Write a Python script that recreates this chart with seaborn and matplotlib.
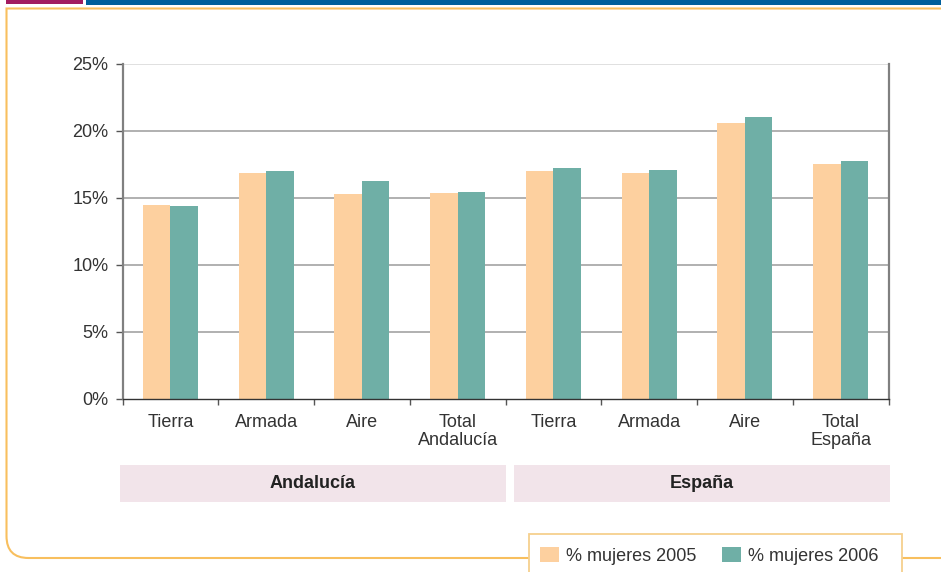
import numpy as np
import pandas as pd
import matplotlib
matplotlib.use("Agg")
import matplotlib.pyplot as plt
import seaborn as sns
from matplotlib.patches import Rectangle, PathPatch
from matplotlib.path import Path
from matplotlib.ticker import FixedLocator

# ---------------- data ----------------
categories = ["Tierra", "Armada", "Aire", "Total\nAndalucía",
              "Tierra", "Armada", "Aire", "Total\nEspaña"]
group_of = ["Andalucía"] * 4 + ["España"] * 4
groups = ["Andalucía", "España"]
years = ["% mujeres 2005", "% mujeres 2006"]
mujeres_2005 = [14.46, 16.85, 15.28, 15.36, 17.00, 16.85, 20.59, 17.53]
mujeres_2006 = [14.39, 17.00, 16.26, 15.43, 17.23, 17.08, 21.04, 17.75]
y_ticks = [0, 5, 10, 15, 20, 25]
y_tick_labels = ["0%", "5%", "10%", "15%", "20%", "25%"]

# ---------------- style ----------------
C05 = "#FDD09F"
C06 = "#6FAFA6"
BOX = "#F2E4EA"
ORANGE = "#F8BF5E"
TXT = "#333333"

W, H = 941, 572
sns.set_theme(style="white")
plt.rcParams["font.family"] = ["Liberation Sans", "DejaVu Sans"]

keys = [f"{g}|{c}" for g, c in zip(group_of, categories)]
df = pd.DataFrame({
    "key": keys * 2,
    "value": mujeres_2005 + mujeres_2006,
    "year": [years[0]] * len(keys) + [years[1]] * len(keys),
})

fig = plt.figure(figsize=(W / 100, H / 100), dpi=100)
fig.patch.set_facecolor("white")

def fx(x):
    return x / W

def fy(y):
    return 1 - y / H

ax = fig.add_axes([fx(122.5), fy(398.5), fx(888.5) - fx(122.5), fy(64) - fy(398.5)])

# gridlines
for t in y_ticks[1:]:
    ax.axhline(t, color="#DDDDDD" if t == 25 else "#AAAAAA", lw=1.3, zorder=0)

sns.barplot(data=df, x="key", y="value", hue="year", order=keys,
            hue_order=years, palette=[C05, C06], width=0.575, gap=0,
            saturation=1, linewidth=0, ax=ax, legend=False, zorder=2)

ax.set_xlim(-0.5, len(keys) - 0.5)
ax.set_ylim(0, 25)
ax.set_xlabel("")
ax.set_ylabel("")

ax.set_yticks(y_ticks)
ax.set_yticklabels(y_tick_labels, fontsize=13, color=TXT)
ax.tick_params(axis="y", direction="out", length=5, width=1, color="#555555",
               pad=5, left=True)

ax.set_xticks(range(len(keys)))
ax.set_xticklabels(categories, fontsize=13, color=TXT, linespacing=1.12)
ax.tick_params(axis="x", which="major", length=0, pad=11, bottom=True)
ax.xaxis.set_minor_locator(FixedLocator(np.arange(-0.5, len(keys), 1.0)))
ax.tick_params(axis="x", which="minor", direction="out", length=4, width=1,
               color="#555555", bottom=True)

ax.spines["top"].set_visible(False)
ax.spines["left"].set_color("#808080")
ax.spines["left"].set_linewidth(1.6)
ax.spines["right"].set_color("#808080")
ax.spines["right"].set_linewidth(1.6)
ax.spines["bottom"].set_color("#333333")
ax.spines["bottom"].set_linewidth(1.0)

# group label boxes
for (x0, x1), g in zip([(120, 506), (514, 890)], groups):
    fig.add_artist(Rectangle((fx(x0), fy(502)), fx(x1) - fx(x0), fy(465) - fy(502),
                             transform=fig.transFigure, facecolor=BOX,
                             edgecolor="none"))
    fig.text(fx((x0 + x1) / 2), fy(483.5), g, ha="center", va="center",
             fontsize=13, fontweight="bold", color="#222222")

# decorative header bars
fig.add_artist(Rectangle((fx(6), fy(4)), fx(83) - fx(6), fy(0) - fy(4),
                         transform=fig.transFigure, facecolor="#A21C60",
                         edgecolor="none"))
fig.add_artist(Rectangle((fx(86), fy(4.5)), fx(941) - fx(86), fy(0) - fy(4.5),
                         transform=fig.transFigure, facecolor="#00609C",
                         edgecolor="none"))

# orange frame
r = 22
verts = [(fx(941), fy(8.5)), (fx(6.5), fy(8.5)), (fx(6.5), fy(558 - r)),
         (fx(6.5), fy(558)), (fx(6.5 + r), fy(558)), (fx(941), fy(558))]
codes = [Path.MOVETO, Path.LINETO, Path.LINETO, Path.CURVE3, Path.CURVE3, Path.LINETO]
fig.add_artist(PathPatch(Path(verts, codes), transform=fig.transFigure,
                         facecolor="none", edgecolor=ORANGE, lw=1.5))

# legend box
fig.add_artist(Rectangle((fx(529), fy(590)), fx(902) - fx(529), fy(534) - fy(590),
                         transform=fig.transFigure, facecolor="white",
                         edgecolor="#F6D08E", lw=1.3, clip_on=False))

handles = [Rectangle((0, 0), 1, 1, facecolor=C05, edgecolor="none"),
           Rectangle((0, 0), 1, 1, facecolor=C06, edgecolor="none")]
leg = fig.legend(handles, years, loc="center left",
                 bbox_to_anchor=(fx(540), fy(556)), bbox_transform=fig.transFigure,
                 ncol=2, frameon=False, fontsize=13, handlelength=1.05,
                 handleheight=0.9, handletextpad=0.4, columnspacing=1.4,
                 borderpad=0, borderaxespad=0)
for t in leg.get_texts():
    t.set_color(TXT)

fig.savefig("out.png", dpi=100, facecolor="white")
